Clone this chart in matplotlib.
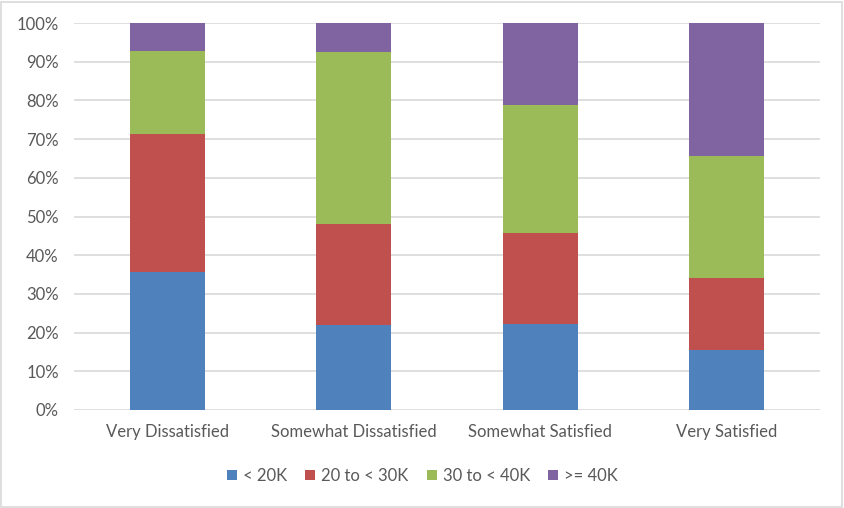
import numpy as np
import matplotlib.pyplot as plt
from matplotlib.patches import Rectangle

categories = ["Very Dissatisfied", "Somewhat Dissatisfied", "Somewhat Satisfied", "Very Satisfied"]
series_names = ["< 20K", "20 to < 30K", "30 to < 40K", ">= 40K"]
under_20k = [35.7, 21.9, 22.3, 15.5]
k20_to_30k = [35.6, 26.1, 23.4, 18.7]
k30_to_40k = [21.4, 44.4, 33.1, 31.4]
over_40k = [7.3, 7.6, 21.2, 34.4]
colors = ["#4f81bd", "#c0504d", "#9bbb59", "#8064a2"]

TEXT = "#595959"


def main():
    plt.rcParams['font.family'] = ['Lato', 'DejaVu Sans']
    fig = plt.figure(figsize=(8.44, 5.08), dpi=100)
    ax = fig.add_axes([74 / 844, 1 - 410 / 508, (820 - 74) / 844, (410 - 23) / 508])

    x = np.arange(len(categories))
    bottom = np.zeros(len(categories))
    for name, vals, col in zip(series_names, [under_20k, k20_to_30k, k30_to_40k, over_40k], colors):
        ax.bar(x, vals, width=0.4, bottom=bottom, color=col, label=name, zorder=3)
        bottom += np.array(vals)

    ax.set_xlim(-0.5, len(categories) - 0.5)
    ax.set_ylim(0, 100)
    ax.set_yticks(np.arange(0, 101, 10))
    ax.set_yticklabels(["{0}%".format(v) for v in range(0, 101, 10)])
    ax.set_xticks(x)
    ax.set_xticklabels(categories)
    ax.yaxis.grid(True, color="#d9d9d9", linewidth=1.2, zorder=0)
    for s in ax.spines.values():
        s.set_visible(False)
    ax.tick_params(axis="both", length=0, labelsize=12, colors=TEXT)
    ax.tick_params(axis="x", pad=10)
    ax.tick_params(axis="y", pad=11)

    ax.legend(loc="center", bbox_to_anchor=(0.467, -0.17), ncol=4, frameon=False,
              fontsize=12, labelcolor=TEXT, handlelength=0.6, handleheight=0.6,
              handletextpad=0.35, columnspacing=1.1)

    fig.patches.append(Rectangle((0.001, 0.001), 0.997, 0.996, transform=fig.transFigure,
                                 fill=False, edgecolor="#d9d9d9", linewidth=1.2))
    fig.savefig("out.png", dpi=100)


if __name__ == '__main__':
    main()
